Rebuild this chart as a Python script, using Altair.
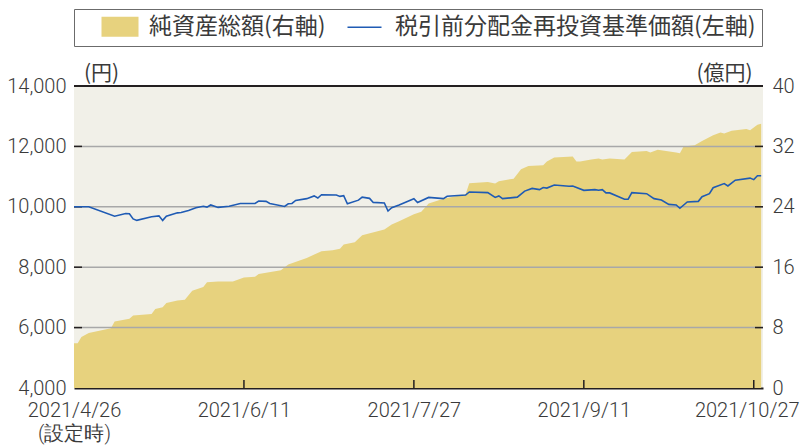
import altair as alt
import pandas as pd

# ---- data ----
nav_dates = ["2021-04-26", "2021-04-30", "2021-05-07", "2021-05-10", "2021-05-11", "2021-05-12",
             "2021-05-13", "2021-05-17", "2021-05-19", "2021-05-20", "2021-05-21", "2021-05-24",
             "2021-05-25", "2021-05-27", "2021-05-29", "2021-05-31", "2021-06-01", "2021-06-02",
             "2021-06-04", "2021-06-07", "2021-06-10", "2021-06-14", "2021-06-15", "2021-06-17",
             "2021-06-18", "2021-06-22", "2021-06-23", "2021-06-24", "2021-06-25", "2021-06-28",
             "2021-06-30", "2021-07-01", "2021-07-02", "2021-07-06", "2021-07-07", "2021-07-08",
             "2021-07-09", "2021-07-12", "2021-07-13", "2021-07-15", "2021-07-16", "2021-07-19",
             "2021-07-20", "2021-07-21", "2021-07-23", "2021-07-27", "2021-07-28", "2021-07-31",
             "2021-08-04", "2021-08-05", "2021-08-10", "2021-08-11", "2021-08-16", "2021-08-18",
             "2021-08-19", "2021-08-20", "2021-08-24", "2021-08-26", "2021-08-28", "2021-08-30",
             "2021-08-31", "2021-09-01", "2021-09-03", "2021-09-07", "2021-09-08", "2021-09-11",
             "2021-09-14", "2021-09-15", "2021-09-16", "2021-09-17", "2021-09-18", "2021-09-22",
             "2021-09-23", "2021-09-24", "2021-09-28", "2021-09-30", "2021-10-02", "2021-10-04",
             "2021-10-06", "2021-10-07", "2021-10-09", "2021-10-12", "2021-10-13", "2021-10-15",
             "2021-10-16", "2021-10-19", "2021-10-20", "2021-10-22", "2021-10-26", "2021-10-27",
             "2021-10-28", "2021-10-29"]
nav_values = [10000, 10000, 9690, 9780, 9770, 9600,
              9550, 9670, 9700, 9550, 9690, 9800,
              9810, 9880, 9970, 10020, 9990, 10060,
              9980, 10020, 10110, 10110, 10190, 10180,
              10110, 10010, 10100, 10110, 10210, 10270,
              10360, 10290, 10400, 10390, 10345, 10370,
              10100, 10220, 10320, 10280, 10145, 10125,
              9860, 9970, 10060, 10270, 10140, 10310,
              10270, 10350, 10390, 10490, 10470, 10310,
              10360, 10270, 10320, 10520, 10610, 10570,
              10640, 10620, 10720, 10680, 10690, 10545,
              10570, 10550, 10570, 10460, 10460, 10250,
              10250, 10470, 10435, 10270, 10225, 10080,
              10060, 9950, 10160, 10180, 10335, 10435,
              10630, 10770, 10690, 10880, 10950, 10900,
              11030, 11030]

aum_dates = ["2021-04-26", "2021-04-27", "2021-04-28", "2021-04-30", "2021-05-06", "2021-05-07",
             "2021-05-11", "2021-05-12", "2021-05-17", "2021-05-18", "2021-05-20", "2021-05-21",
             "2021-05-24", "2021-05-26", "2021-05-28", "2021-05-31", "2021-06-01", "2021-06-04",
             "2021-06-08", "2021-06-11", "2021-06-14", "2021-06-15", "2021-06-21", "2021-06-23",
             "2021-06-28", "2021-07-02", "2021-07-05", "2021-07-07", "2021-07-08", "2021-07-11",
             "2021-07-13", "2021-07-19", "2021-07-21", "2021-07-23", "2021-07-27", "2021-07-29",
             "2021-07-31", "2021-08-04", "2021-08-10", "2021-08-11", "2021-08-16", "2021-08-18",
             "2021-08-19", "2021-08-23", "2021-08-25", "2021-08-27", "2021-08-31", "2021-09-01",
             "2021-09-03", "2021-09-08", "2021-09-09", "2021-09-10", "2021-09-13", "2021-09-15",
             "2021-09-16", "2021-09-18", "2021-09-22", "2021-09-24", "2021-09-28", "2021-09-29",
             "2021-10-01", "2021-10-06", "2021-10-07", "2021-10-08", "2021-10-11", "2021-10-13",
             "2021-10-16", "2021-10-18", "2021-10-19", "2021-10-21", "2021-10-25", "2021-10-26",
             "2021-10-28", "2021-10-29"]
aum_values = [5.94, 5.94, 6.74, 7.27, 7.93, 8.81,
              9.17, 9.61, 9.79, 10.46, 10.70, 11.25,
              11.60, 11.70, 12.89, 13.38, 14.00, 14.10,
              14.10, 14.62, 14.75, 15.11, 15.59, 16.35,
              17.23, 18.12, 18.25, 18.45, 19.00, 19.30,
              20.24, 21.00, 21.66, 22.10, 23.00, 23.35,
              24.45, 25.07, 25.65, 27.11, 27.28, 27.10,
              27.40, 27.73, 28.97, 29.41, 29.50, 30.00,
              30.52, 30.65, 30.00, 30.00, 30.25, 30.40,
              30.25, 30.40, 30.25, 31.27, 31.40, 31.20,
              31.55, 31.20, 31.10, 32.00, 32.15, 32.73,
              33.49, 33.85, 33.70, 34.06, 34.30, 34.15,
              34.86, 35.00]

series_names = ["純資産総額(右軸)", "税引前分配金再投資基準価額(左軸)"]
series_colors = ["#e7d27e", "#1f5bb4"]
x_tick_dates = [(2021, 4, 26), (2021, 6, 11), (2021, 7, 27), (2021, 9, 11), (2021, 10, 27)]
left_ticks = [4000, 6000, 8000, 10000, 12000, 14000]
right_ticks = [0, 8, 16, 24, 32, 40]
left_unit = "(円)"
right_unit = "(億円)"
first_note = "(設定時)"

# ---- styling ----
W, H = 689, 302
TEXT = "#3a3a3a"
DARK = "#231f20"
GRID = "#a8a8a8"
PLOT_BG = "#f1f0e8"
NUM_FONT = "Roboto"
JP_FONT = "Noto Sans CJK JP"

nav = pd.DataFrame({"date": pd.to_datetime(nav_dates), "value": nav_values})
aum = pd.DataFrame({"date": pd.to_datetime(aum_dates), "oku": aum_values})
grid_df = pd.DataFrame({"v": left_ticks[1:-1]})
xt_df = pd.DataFrame({"date": pd.to_datetime(["%d-%02d-%02d" % t for t in x_tick_dates[1:]])})
legend_df = pd.DataFrame({"series": series_names})

x_scale = alt.Scale(domain=[alt.DateTime(year=2021, month=4, date=26),
                            alt.DateTime(year=2021, month=10, date=29, hours=12)])
y_left = alt.Scale(domain=[left_ticks[0], left_ticks[-1]], nice=False, zero=False)
y_right = alt.Scale(domain=[right_ticks[0], right_ticks[-1]], nice=False)

label_expr = ("datum.index == 0 ? [timeFormat(datum.value, '%Y/%-m/%-d'), '" + first_note +
              "'] : timeFormat(datum.value, '%Y/%-m/%-d')")

x_axis = alt.Axis(values=[alt.DateTime(year=y, month=m, date=d) for (y, m, d) in x_tick_dates],
                  labelExpr=label_expr, ticks=False, grid=False, domain=True,
                  domainColor=DARK, domainWidth=2, labelFont=NUM_FONT, labelFontSize=20,
                  labelFontWeight=300, labelColor=TEXT, labelPadding=12, labelLineHeight=23,
                  labelOffset={"condition": {"test": "datum.index == 1", "value": -7}, "value": 0},
                  labelFlush=False, labelOverlap=False, labelBound=False, title=None)

left_axis = alt.Axis(orient="left", values=left_ticks, format=",d", grid=False, ticks=False,
                     domain=False, labelPadding=8, labelFont=NUM_FONT, labelFontSize=20,
                     labelFontWeight=300, labelColor=TEXT, labelFlush=False,
                     title=left_unit, titleAngle=0, titleX=27, titleY=-3,
                     titleAlign="center", titleBaseline="bottom", titleFont=JP_FONT,
                     titleFontSize=21, titleFontWeight="normal", titleColor=TEXT)

right_axis = alt.Axis(orient="right", values=right_ticks, format="d", ticks=False, domain=False,
                      grid=False, labelPadding=9, labelFont=NUM_FONT, labelFontSize=20,
                      labelFontWeight=300, labelColor=TEXT, labelFlush=False, title=right_unit,
                      titleAngle=0, titleX=-39, titleY=-3, titleAlign="center",
                      titleBaseline="bottom", titleFont=JP_FONT, titleFontSize=21,
                      titleFontWeight="normal", titleColor=TEXT)

area = alt.Chart(aum).mark_area(color=series_colors[0], opacity=1).encode(
    x=alt.X("date:T", scale=x_scale, axis=x_axis),
    y=alt.Y("oku:Q", scale=y_right, axis=right_axis),
)

grid = alt.Chart(grid_df).mark_rule(color=GRID, strokeWidth=1.5).encode(
    y=alt.Y("v:Q", scale=y_left, axis=left_axis))
ltick = alt.Chart(grid_df).mark_rule(color=DARK, strokeWidth=1.5).encode(
    y=alt.Y("v:Q", scale=y_left, axis=left_axis), x=alt.value(0), x2=alt.value(8))
rtick = alt.Chart(grid_df).mark_rule(color=DARK, strokeWidth=1.5).encode(
    y=alt.Y("v:Q", scale=y_left, axis=left_axis), x=alt.value(W - 8), x2=alt.value(W))
xtick = alt.Chart(xt_df).mark_rule(color=DARK, strokeWidth=1.5).encode(
    x=alt.X("date:T", scale=x_scale, axis=x_axis), y=alt.value(H - 8), y2=alt.value(H))

line = alt.Chart(nav).mark_line(color=series_colors[1], strokeWidth=1.6).encode(
    x=alt.X("date:T", scale=x_scale, axis=x_axis),
    y=alt.Y("value:Q", scale=y_left, axis=left_axis),
)

top = alt.Chart(grid_df).mark_rule(color=DARK, strokeWidth=2).encode(
    y=alt.datum(left_ticks[-1], scale=y_left, axis=left_axis))

# legend: 20px symbol cell; the drawn swatch (37x20) and line (34px) sit 20px into the entry
leg = alt.Legend(orient="none", legendX=0, legendY=-77, direction="horizontal", columns=2,
                 title=None, labelFont=JP_FONT, labelFontSize=23, labelColor=TEXT,
                 labelOffset=46, labelLimit=600, columnPadding=0, padding=6,
                 strokeColor="#6b6b6b", fillColor="#ffffff", symbolStrokeWidth=1.6,
                 symbolOpacity=1, symbolSize=400)
rect_path = "M1.0,-1L4.7,-1L4.7,1L1.0,1Z"
line_path = "M1.0,0L4.4,0"
legend_layer = alt.Chart(legend_df).mark_point(filled=True, size=400).encode(
    fill=alt.Fill("series:N", scale=alt.Scale(domain=series_names,
                                              range=[series_colors[0], "transparent"]), legend=leg),
    stroke=alt.Stroke("series:N", scale=alt.Scale(domain=series_names,
                                                  range=["transparent", series_colors[1]]), legend=leg),
    shape=alt.Shape("series:N", scale=alt.Scale(domain=series_names,
                                                range=[rect_path, line_path]), legend=leg),
).transform_filter("false")

left_group = alt.layer(grid, ltick, rtick, xtick, line, top, legend_layer)

chart = alt.layer(area, left_group).resolve_scale(y="independent").properties(
    width=W, height=H,
    autosize=alt.AutoSizeParams(type="none"),
    padding={"left": 66, "top": 78, "right": 37, "bottom": 60},
    background="#ffffff",
    view=alt.ViewBackground(fill=PLOT_BG, stroke=None),
).configure_view(fill=PLOT_BG, stroke=None)

chart.save("out.html", embed_options={"renderer": "svg", "actions": False})
